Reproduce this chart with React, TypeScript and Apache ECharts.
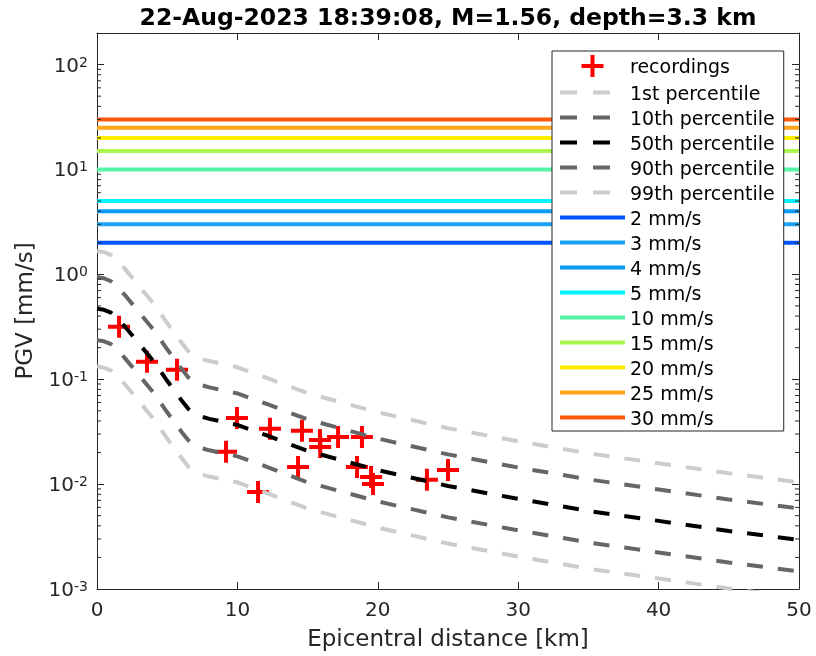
import React, { useEffect, useRef } from 'react';
import * as echarts from 'echarts';

const FONT = 'DejaVu Sans';
const AXIS_COLOR = '#262626';

// Model curve distances (km)
const distances = [0, 0.5, 1, 1.5, 2, 3, 4, 5, 6, 6.5, 7, 7.5, 8, 10, 12, 15, 20, 25, 30, 35, 40, 45, 50];
// Percentile curves of PGV (mm/s)
const p1 = [0.132, 0.129, 0.121, 0.106, 0.0891, 0.0614, 0.0423, 0.0272, 0.0179, 0.0147, 0.0132, 0.0123, 0.0118, 0.0104, 0.0083, 0.00585, 0.00385, 0.00271, 0.00204, 0.00156, 0.00126, 0.00101, 0.000828];
const p10 = [0.236, 0.23, 0.216, 0.189, 0.158, 0.109, 0.0752, 0.0484, 0.0318, 0.0262, 0.0234, 0.0219, 0.021, 0.0184, 0.0148, 0.0104, 0.00684, 0.00482, 0.00362, 0.00278, 0.00223, 0.00179, 0.00147];
const p50 = [0.47, 0.459, 0.431, 0.377, 0.316, 0.218, 0.15, 0.0966, 0.0635, 0.0522, 0.0468, 0.0438, 0.0419, 0.0367, 0.0294, 0.0207, 0.0136, 0.00961, 0.00723, 0.00555, 0.00446, 0.00357, 0.00294];
const p90 = [0.938, 0.916, 0.859, 0.752, 0.631, 0.435, 0.299, 0.193, 0.127, 0.104, 0.0933, 0.0873, 0.0836, 0.0733, 0.0587, 0.0414, 0.0272, 0.0192, 0.0144, 0.0111, 0.00889, 0.00713, 0.00586];
const p99 = [1.667, 1.629, 1.528, 1.337, 1.122, 0.773, 0.532, 0.343, 0.225, 0.185, 0.166, 0.155, 0.149, 0.13, 0.104, 0.0736, 0.0484, 0.0341, 0.0256, 0.0197, 0.0158, 0.0127, 0.0104];

// Recordings
const recDistance = [1.57, 3.56, 5.7, 9.19, 9.97, 11.47, 12.32, 14.32, 14.6, 15.88, 15.9, 17.17, 18.52, 18.87, 19.52, 19.66, 23.5, 25.0];
const recPGV = [0.316, 0.147, 0.123, 0.0203, 0.0428, 0.00843, 0.0337, 0.0146, 0.0322, 0.0264, 0.0226, 0.0282, 0.0146, 0.0282, 0.0117, 0.01, 0.011, 0.0136];

// Threshold levels
const thresholds = [2, 3, 4, 5, 10, 15, 20, 25, 30];
const thresholdColors = ['#0055ff', '#1aa3f5', '#0a9cf5', '#00f5ff', '#55f5a5', '#aaf550', '#ffee00', '#ffa51a', '#ff5a0a'];

const percentileNames = ['1st percentile', '10th percentile', '50th percentile', '90th percentile', '99th percentile'];
const percentileColors = ['#cccccc', '#666666', '#000000', '#666666', '#cccccc'];
const percentileData = [p1, p10, p50, p90, p99];

const PLUS = 'path://M9,0H13V9H22V13H13V22H9V13H0V9H9Z';

export default function App() {
  const ref = useRef<HTMLDivElement>(null);
  useEffect(() => {
    const chart = echarts.init(ref.current!, null, { renderer: 'svg' });

    const minorTicks: number[][] = [];
    for (let n = -3; n <= 2; n++) {
      for (let k = 2; k <= 9; k++) {
        const v = k * Math.pow(10, n);
        if (v < 200) minorTicks.push([0, v]);
      }
    }

    const series: any[] = [];
    series.push({
      name: 'recordings',
      type: 'scatter',
      symbol: PLUS,
      symbolSize: 22,
      itemStyle: { color: '#ff0000', opacity: 1 },
      data: recDistance.map((d, i) => [d, recPGV[i]]),
      z: 2,
    });
    percentileNames.forEach((name, i) => {
      series.push({
        name,
        type: 'line',
        symbol: 'none',
        lineStyle: { color: percentileColors[i], width: 4, type: [16, 15] },
        itemStyle: { color: percentileColors[i] },
        data: distances.map((d, j) => [d, percentileData[i][j]]),
        z: 3,
      });
    });
    thresholds.forEach((t, i) => {
      series.push({
        name: `${t} mm/s`,
        type: 'line',
        symbol: 'none',
        lineStyle: { color: thresholdColors[i], width: 4, type: 'solid' },
        itemStyle: { color: thresholdColors[i] },
        data: [[0, t], [50, t]],
        z: 3,
      });
    });
    series.push({
      type: 'custom',
      silent: true,
      data: minorTicks,
      z: 5,
      renderItem: (params: any, api: any) => {
        const v = api.value(1);
        const l = api.coord([0, v]);
        const r = api.coord([50, v]);
        return {
          type: 'group',
          children: [
            { type: 'line', shape: { x1: l[0], y1: l[1], x2: l[0] + 4, y2: l[1] }, style: { stroke: AXIS_COLOR, lineWidth: 1 } },
            { type: 'line', shape: { x1: r[0] - 4, y1: r[1], x2: r[0], y2: r[1] }, style: { stroke: AXIS_COLOR, lineWidth: 1 } },
          ],
        };
      },
    });

    const logFormatter = (value: number) => {
      const lg = Math.log10(value);
      const e = Math.round(lg);
      if (Math.abs(lg - e) > 1e-6) return '';
      return `{b|10}{e|${e}}`;
    };

    const axisLine = { show: true, onZero: false, lineStyle: { color: AXIS_COLOR, width: 1 } };
    const axisTick = { show: true, inside: true, length: 7, lineStyle: { color: AXIS_COLOR, width: 1 } };

    const hiddenSymbol = { opacity: 0, borderWidth: 0 };
    const legendData: any[] = [
      { name: 'recordings', icon: PLUS },
      ...percentileNames.map((n) => ({ name: n, lineStyle: { type: [17, 16] }, itemStyle: hiddenSymbol })),
      ...thresholds.map((t) => ({ name: `${t} mm/s`, itemStyle: hiddenSymbol })),
    ];

    chart.setOption({
      animation: false,
      textStyle: { fontFamily: FONT },
      grid: { left: 97, top: 33, right: 17, bottom: 67, containLabel: false, outerBoundsMode: 'none' },
      graphic: [
        {
          type: 'text',
          x: 448,
          y: 17,
          style: {
            text: '22-Aug-2023 18:39:08, M=1.56, depth=3.3 km',
            fontFamily: FONT,
            fontWeight: 'bold',
            fontSize: 23.5,
            fill: '#000',
            align: 'center',
            verticalAlign: 'middle',
          },
        },
      ],
      xAxis: [
        {
          type: 'value',
          min: 0,
          max: 50,
          interval: 10,
          position: 'bottom',
          axisLine,
          axisTick,
          splitLine: { show: false },
          axisLabel: { fontSize: 20, color: AXIS_COLOR, margin: 10, fontFamily: FONT },
          name: 'Epicentral distance [km]',
          nameLocation: 'middle',
          nameGap: 37,
          nameTextStyle: { fontSize: 23, color: AXIS_COLOR, fontFamily: FONT },
        },
        {
          type: 'value',
          min: 0,
          max: 50,
          interval: 10,
          position: 'top',
          axisLine,
          axisTick,
          splitLine: { show: false },
          axisLabel: { show: false },
        },
      ],
      yAxis: [
        {
          type: 'log',
          logBase: 10,
          min: 0.001,
          max: 200,
          position: 'left',
          axisLine,
          axisTick,
          splitLine: { show: false },
          minorTick: { show: false },
          axisLabel: {
            formatter: logFormatter,
            margin: 9,
            color: AXIS_COLOR,
            rich: {
              b: { fontSize: 20, lineHeight: 20, verticalAlign: 'bottom', color: AXIS_COLOR, fontFamily: FONT },
              e: { fontSize: 14, lineHeight: 14, verticalAlign: 'top', padding: [0, 0, 11, 0], color: AXIS_COLOR, fontFamily: FONT },
            },
          },
          name: 'PGV [mm/s]',
          nameLocation: 'middle',
          nameGap: 62,
          nameRotate: 90,
          nameTextStyle: { fontSize: 23, color: AXIS_COLOR, fontFamily: FONT },
        },
        {
          type: 'log',
          logBase: 10,
          min: 0.001,
          max: 200,
          position: 'right',
          axisLine,
          axisTick,
          splitLine: { show: false },
          axisLabel: { show: false },
        },
      ],
      legend: {
        orient: 'vertical',
        left: 552,
        top: 51,
        padding: [4, 9, 4, 6],
        itemWidth: 65,
        itemHeight: 22,
        itemGap: 6,
        backgroundColor: '#ffffff',
        borderColor: AXIS_COLOR,
        borderWidth: 1,
        borderRadius: 0,
        selectedMode: false,
        textStyle: { fontSize: 19, color: '#000', fontFamily: FONT },
        lineStyle: { width: 4 },
        data: legendData,
      },
      series,
    });
    return () => chart.dispose();
  }, []);
  return <div ref={ref} style={{ position: 'fixed', left: 0, top: 0, width: 816, height: 656 }} />;
}
